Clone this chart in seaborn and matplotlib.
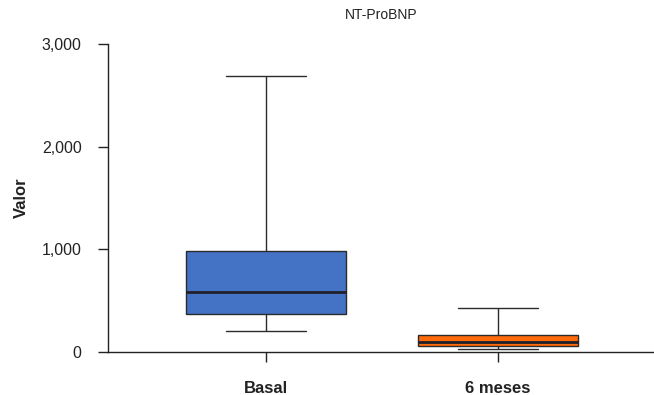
import numpy as np
import pandas as pd
import matplotlib
matplotlib.use("Agg")
import matplotlib.pyplot as plt
import seaborn as sns

# Five-number summaries (min, Q1, median, Q3, max)
groups = ["Basal", "6 meses"]
basal_vals = [205, 367, 584, 984, 2685]
meses_vals = [32, 58, 94, 169, 429]
colors = ["#4472C4", "#FF6A0A"]
yticks = [0, 1000, 2000, 3000]
ytick_labels = ["0", "1,000", "2,000", "3,000"]

df = pd.DataFrame({
    "grupo": [groups[0]] * len(basal_vals) + [groups[1]] * len(meses_vals),
    "valor": basal_vals + meses_vals,
})

sns.set_style("white")
plt.rcParams["font.family"] = ["Liberation Sans", "DejaVu Sans"]

fig = plt.figure(figsize=(6.54, 3.95), dpi=100)
ax = fig.add_axes([108 / 654, 1 - 352 / 395, 1 - 108 / 654, (352 - 44) / 395])

sns.boxplot(
    data=df, x="grupo", y="valor", hue="grupo", palette=colors, legend=False,
    order=groups, whis=(0, 100), width=0.69, linewidth=1.0, linecolor="#2b2b2b",
    saturation=1,
    medianprops=dict(color="#1f1f2a", linewidth=2.0),
    ax=ax,
)

ax.set_ylim(0, 3000)
ax.set_xlim(-0.684, 1.675)
ax.set_yticks(yticks)
ax.set_yticklabels(ytick_labels, fontsize=11.5, color="#222222")
ax.set_xticks([0, 1])
ax.set_xticklabels(groups, fontsize=12, fontweight="bold", color="#222222")
ax.set_xlabel("")
ax.set_ylabel("Valor", fontsize=12, fontweight="bold", color="#222222", labelpad=9)
ax.set_title("NT-ProBNP", fontsize=10, color="#222222", pad=18)

for s in ["top", "right"]:
    ax.spines[s].set_visible(False)
for s in ["left", "bottom"]:
    ax.spines[s].set_color("#222222")
    ax.spines[s].set_linewidth(1.0)
ax.tick_params(axis="both", direction="out", length=7, width=1.0, color="#222222", left=True, bottom=True)
ax.tick_params(axis="x", pad=14)
ax.tick_params(axis="y", pad=12)

fig.savefig("out.png", dpi=100)
